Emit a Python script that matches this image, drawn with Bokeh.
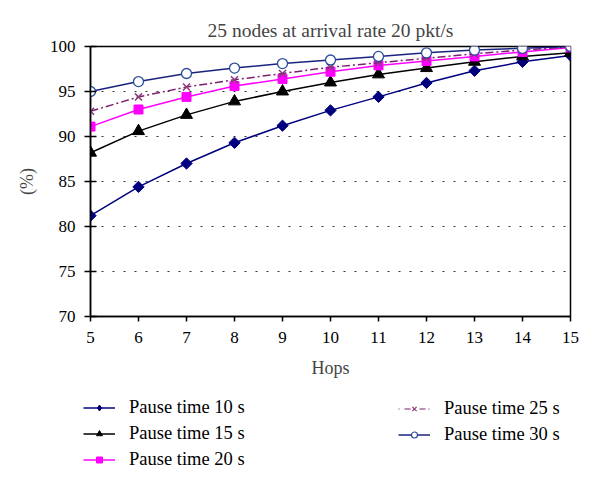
import math
from bokeh.plotting import figure
from bokeh.layouts import column
from bokeh.models import Legend, LegendItem, FixedTicker, Range1d
from bokeh.embed import file_html
from bokeh.resources import INLINE

hops = [5, 6, 7, 8, 9, 10, 11, 12, 13, 14, 15]
pause10 = [81.2, 84.4, 87.0, 89.3, 91.2, 92.9, 94.4, 95.95, 97.3, 98.3, 99.0]
pause15 = [88.2, 90.6, 92.4, 93.9, 95.0, 96.0, 96.9, 97.6, 98.3, 98.9, 99.3]
pause20 = [91.1, 93.0, 94.4, 95.6, 96.4, 97.2, 97.9, 98.4, 98.9, 99.4, 99.9]
pause25 = [92.8, 94.4, 95.5, 96.3, 97.0, 97.7, 98.2, 98.7, 99.2, 99.6, 99.95]
pause30 = [95.0, 96.1, 97.0, 97.6, 98.1, 98.5, 98.9, 99.3, 99.6, 99.8, 100.0]
labels = ["Pause time 10 s", "Pause time 15 s", "Pause time 20 s",
          "Pause time 25 s", "Pause time 30 s"]
y_ticks = [70, 75, 80, 85, 90, 95, 100]
x_ticks = hops

FONT = "Liberation Serif"
NAVY = "#00007F"
BLACK = "#000000"
MAGENTA = "#FF00FF"
PURPLE_LINE = "#7F1F6F"
PURPLE_MARK = "#8B3A7B"
NAVY30 = "#1A237E"
BLUE30 = "#2B4C9B"

p = figure(width=592, height=384, output_backend="svg", toolbar_location=None,
           x_range=Range1d(5, 15), y_range=Range1d(70, 100),
           min_border_left=90, min_border_right=22, min_border_top=46, min_border_bottom=68,
           title="25 nodes at arrival rate 20 pkt/s")
p.frame_align = False
p.title.align = "center"
p.title.text_font = FONT
p.title.text_font_size = "19.5px"
p.title.text_font_style = "normal"
p.title.standoff = 11

p.outline_line_color = "black"
p.outline_line_width = 1.5
p.background_fill_color = "white"
p.border_fill_color = "white"

p.xgrid.visible = False
p.ygrid.ticker = FixedTicker(ticks=y_ticks)
p.ygrid.grid_line_color = "#333333"
p.ygrid.grid_line_dash = "2 9"
p.ygrid.grid_line_width = 1

for ax in (p.xaxis[0], p.yaxis[0]):
    ax.axis_line_width = 1.5
    ax.axis_line_color = "black"
    ax.major_tick_line_width = 1.5
    ax.major_tick_line_color = "black"
    ax.minor_tick_line_color = None
    ax.major_label_text_font = FONT
    ax.major_label_text_font_size = "17px"
    ax.major_label_text_color = "black"
    ax.axis_label_text_font = FONT
    ax.axis_label_text_font_size = "18px"
    ax.axis_label_text_font_style = "normal"

p.xaxis.ticker = FixedTicker(ticks=x_ticks)
p.xaxis.major_tick_in = 0
p.xaxis.major_tick_out = 5
p.xaxis.major_label_standoff = 10
p.xaxis.axis_label = "Hops"
p.xaxis.axis_label_standoff = 12

p.yaxis.ticker = FixedTicker(ticks=y_ticks)
p.yaxis.major_tick_in = 6
p.yaxis.major_tick_out = 6
p.yaxis.major_label_standoff = 9
p.yaxis.axis_label = "(%)"
p.yaxis.axis_label_standoff = 10

ROT = math.pi / 4
p.line(hops, pause10, line_color=NAVY, line_width=1.5)
p.scatter(hops, pause10, marker="square", angle=ROT, size=8, fill_color=NAVY, line_color=NAVY)
p.line(hops, pause15, line_color=BLACK, line_width=1.5)
p.scatter(hops, pause15, marker="triangle", size=12, fill_color=BLACK, line_color=BLACK)
p.line(hops, pause20, line_color=MAGENTA, line_width=1.5)
p.scatter(hops, pause20, marker="square", size=9, fill_color=MAGENTA, line_color=MAGENTA)
p.line(hops, pause25, line_color=PURPLE_LINE, line_width=1.5, line_dash="8 3 2 3")
p.scatter(hops, pause25, marker="x", size=10, line_color=PURPLE_MARK, line_width=1.5)
p.line(hops, pause30, line_color=NAVY30, line_width=1.5)
p.scatter(hops, pause30, marker="circle", size=10, fill_color="white", line_color=BLUE30, line_width=1.3)

# legend area: a separate figure below the plot (its data lies outside its view)
lf = figure(width=592, height=100, output_backend="svg", toolbar_location=None,
            x_range=Range1d(0, 1), y_range=Range1d(0, 1),
            x_axis_location=None, y_axis_location=None,
            min_border_left=0, min_border_right=0,
            min_border_top=0, min_border_bottom=0)
lf.frame_align = False
lf.grid.visible = False
lf.outline_line_color = None
lf.background_fill_color = "white"
lf.border_fill_color = "white"

l10 = lf.line(hops, pause10, line_color=NAVY, line_width=1.5)
m10 = lf.scatter(hops, pause10, marker="diamond", fill_color=NAVY, line_color=NAVY)
l15 = lf.line(hops, pause15, line_color=BLACK, line_width=1.5)
m15 = lf.scatter(hops, pause15, marker="triangle", fill_color=BLACK, line_color=BLACK)
l20 = lf.line(hops, pause20, line_color=MAGENTA, line_width=1.5)
m20 = lf.scatter(hops, pause20, marker="square", fill_color=MAGENTA, line_color=MAGENTA)
l25 = lf.line(hops, pause25, line_color=PURPLE_LINE, line_width=1.2, line_dash="1 5 6 3")
m25 = lf.scatter(hops, pause25, marker="x", line_color=PURPLE_MARK, line_width=1.2)
l30 = lf.line(hops, pause30, line_color=NAVY30, line_width=1.5)
m30 = lf.scatter(hops, pause30, marker="circle", fill_color="white", line_color=BLUE30, line_width=1.2)

def make_legend(items, loc):
    lg = Legend(items=items, location=loc, orientation="vertical")
    lg.border_line_color = None
    lg.background_fill_alpha = 0
    lg.padding = 0
    lg.margin = 0
    lg.spacing = 5
    lg.glyph_width = 32
    lg.glyph_height = 15
    lg.label_height = 20
    lg.label_standoff = 14
    lg.label_text_font = FONT
    lg.label_text_font_size = "18.5px"
    lg.label_text_color = "black"
    return lg

leg1 = make_legend([
    LegendItem(label=labels[0], renderers=[l10, m10]),
    LegendItem(label=labels[1], renderers=[l15, m15]),
    LegendItem(label=labels[2], renderers=[l20, m20]),
], (83, 14))
leg2 = make_legend([
    LegendItem(label=labels[3], renderers=[l25, m25]),
    LegendItem(label=labels[4], renderers=[l30, m30]),
], (398, 39))
lf.add_layout(leg1, "center")
lf.add_layout(leg2, "center")

layout = column(p, lf, spacing=0)
open("out.html", "w").write(file_html(layout, INLINE))
